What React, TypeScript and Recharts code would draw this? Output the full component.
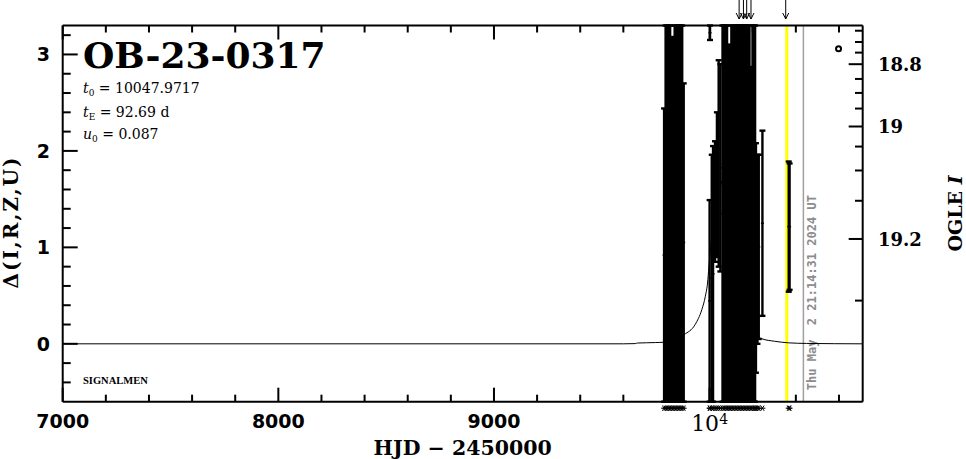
import React from 'react';
import {
  ComposedChart,
  Line,
  Scatter,
  ErrorBar,
  XAxis,
  YAxis,
  ReferenceLine,
} from 'recharts';

// HJD - 2450000 window and delta range of the panel
const HJD_DOMAIN = [7000, 10710];
const DELTA_DOMAIN = [-0.6, 3.3];

// photometry: time, bottom and top of each error bar
const pointHjd = [
  9789, 9796, 9803, 9810, 9817, 9824, 9831, 9838, 9845, 9852, 9859, 9866, 9873, 9880,
  10000, 10002, 10010, 10016, 10025, 10034, 10042, 10050,
  10060, 10067, 10074, 10081, 10088, 10094, 10101, 10108, 10115, 10122, 10129, 10136,
  10143, 10150, 10157, 10164, 10171, 10178, 10185, 10192, 10199, 10206, 10211,
  10215, 10222, 10228, 10245,
  10367, 10371,
];
const pointLow = [
  -0.6, -0.6, -0.6, -0.6, -0.6, -0.6, -0.6, -0.6, -0.6, -0.6, -0.6, -0.6, -0.6, -0.6,
  -0.6, 3.15, -0.6, -0.6, 0.85, 0.9, 0.8, 0.75,
  -0.6, -0.6, -0.6, -0.6, -0.6, -0.6, -0.6, -0.6, -0.6, -0.6, -0.6, -0.6,
  -0.6, -0.6, -0.6, -0.6, -0.6, -0.6, -0.6, -0.6, -0.6, -0.6, -0.6,
  -0.3, 0.0, 0.05, 0.29,
  0.54, 0.56,
];
const pointHigh = [
  2.44, 3.3, 3.3, 3.3, 3.3, 3.18, 3.18, 3.3, 3.3, 3.3, 3.3, 3.3, 3.3, 2.7,
  1.49, 3.3, 1.96, 2.05, 2.1, 2.4, 2.94, 2.9,
  3.3, 3.3, 3.3, 3.3, 3.1, 3.1, 3.3, 3.3, 3.3, 3.3, 3.3, 3.3,
  3.3, 3.3, 3.3, 3.3, 3.3, 3.3, 3.3, 2.87, 3.3, 3.3, 3.3,
  2.08, 1.96, 1.96, 2.21,
  1.89, 1.87,
];

// model light curve
const modelHjd = [
  7000, 9600, 9655, 9665, 9750, 9789, 9840, 9882, 9933, 9964, 9980, 9992, 9995,
  10005, 10020, 10048, 10075, 10110, 10150, 10190, 10215, 10243, 10300, 10367, 10450, 10710,
];
const modelDelta = [
  0, 0, 0.002, 0.008, 0.013, 0.017, 0.045, 0.096, 0.2, 0.355, 0.49, 0.665, 0.75,
  1.0, 1.35, 1.7, 1.45, 0.8, 0.4, 0.18, 0.086, 0.052, 0.027, 0.01, 0.004, 0,
];

const alertHjd = [10137, 10157, 10172, 10192, 10353];
const markHjd = [10598];
const markDelta = [3.06];
const lastHjd = 10358;
const nowHjd = 10435;
const nowText = 'Thu May  2 21:14:31 2024 UT';

const xMajorTicks = [7000, 8000, 9000, 10000];
const xMinorTicks = [
  7200, 7400, 7600, 7800, 8200, 8400, 8600, 8800, 9200, 9400, 9600, 9800,
  10200, 10400, 10600,
];
const yMajorTicks = [0, 1, 2, 3];
const yMinorTicks = [-0.4, -0.2, 0.2, 0.4, 0.6, 0.8, 1.2, 1.4, 1.6, 1.8, 2.2, 2.4, 2.6, 2.8, 3.2];
const magLabels = ['18.8', '19', '19.2'];
const magMajorDelta = [2.899, 2.253, 1.087];
const magMinorDelta = [3.246, 3.129, 3.019, 2.746, 2.601, 2.439, 2.045, 1.797, 1.483, 0.448];

const W = 966;
const H = 459;
const M = { top: 25.5, right: 103.3, bottom: 57.3, left: 62.7 };
const [X0, X1] = HJD_DOMAIN;
const [Y0, Y1] = DELTA_DOMAIN;

const points = pointHjd.map((hjd, i) => ({
  hjd,
  delta: (pointLow[i] + pointHigh[i]) / 2,
  err: (pointHigh[i] - pointLow[i]) / 2,
}));
const model = modelHjd.map((hjd, i) => ({ hjd, delta: modelDelta[i] }));
const marks = markHjd.map((hjd, i) => ({ hjd, delta: markDelta[i] }));
// stars along the bottom and arrows along the top sit on the frame edges
const stars = pointHjd.map((hjd) => ({ hjd, delta: Y0 }));
const alerts = alertHjd.map((hjd) => ({ hjd, delta: Y1 }));

// frame tick marks, anchored on the frame edges
const xTicks = [...xMajorTicks, ...xMinorTicks];
const bottomTicks = xTicks.map((v) => ({ hjd: v, delta: Y0, major: xMajorTicks.includes(v) }));
const topTicks = xTicks.map((v) => ({ hjd: v, delta: Y1, major: xMajorTicks.includes(v) }));
const leftTicks = [...yMajorTicks, ...yMinorTicks].map((v) => ({ hjd: X0, delta: v, major: yMajorTicks.includes(v) }));
const rightTicks = [...magMajorDelta, ...magMinorDelta].map((v) => ({ hjd: X1, delta: v, major: magMajorDelta.includes(v) }));

const SANS = 'DejaVu Sans, sans-serif';
const SERIF = 'DejaVu Serif, serif';
const THIN = 0.01; // axes take no room, the margin holds the labels

function BottomLabel(props: any) {
  const { x, y, payload } = props;
  const v = payload.value;
  if (v === 10000) {
    return (
      <text x={x} y={y + 29.5} textAnchor="middle" fontFamily={SERIF} fontSize={22} fill="#000">
        10<tspan dy={-7} fontSize={14}>4</tspan>
      </text>
    );
  }
  return (
    <text x={x} y={y + 26.5} textAnchor="middle" fontFamily={SANS} fontWeight="bold" fontSize={19} fill="#000">
      {v}
    </text>
  );
}

function LeftLabel(props: any) {
  const { x, y, payload } = props;
  return (
    <text x={x - 12.7} y={y + 7} textAnchor="end" fontFamily={SANS} fontWeight="bold" fontSize={19} fill="#000">
      {payload.value}
    </text>
  );
}

function RightLabel(props: any) {
  const { x, y, payload } = props;
  const i = magMajorDelta.indexOf(payload.value);
  return (
    <text x={x + 15.3} y={y + 7} fontFamily={SERIF} fontWeight="bold" fontSize={18} fill="#000">
      {magLabels[i]}
    </text>
  );
}

const tickUp = (p: any) => {
  const len = p.payload.major ? 14 : 7;
  return <line x1={p.cx} x2={p.cx} y1={p.cy} y2={p.cy - len} stroke="#000" strokeWidth={2} />;
};
const tickDown = (p: any) => {
  const len = p.payload.major ? 14 : 7;
  return <line x1={p.cx} x2={p.cx} y1={p.cy} y2={p.cy + len} stroke="#000" strokeWidth={2} />;
};
const tickRightward = (p: any) => {
  const len = p.payload.major ? 15 : 8;
  return <line x1={p.cx} x2={p.cx + len} y1={p.cy} y2={p.cy} stroke="#000" strokeWidth={2} />;
};
const tickLeftward = (p: any) => {
  const len = p.payload.major ? 14 : 7.7;
  return <line x1={p.cx} x2={p.cx - len} y1={p.cy} y2={p.cy} stroke="#000" strokeWidth={2} />;
};

const arrowShape = (p: any) => (
  <g stroke="#000" strokeWidth={1} fill="none">
    <line x1={p.cx} x2={p.cx} y1={p.cy - 25.5} y2={p.cy - 6.5} />
    <polyline points={`${p.cx - 3},${p.cy - 12.5} ${p.cx},${p.cy - 6.5} ${p.cx + 3},${p.cy - 12.5}`} />
  </g>
);

const starShape = (p: any) => {
  const cy = p.cy + 6.5;
  return (
    <g stroke="#000" strokeWidth={1}>
      <line x1={p.cx - 3} x2={p.cx + 3} y1={cy} y2={cy} />
      <line x1={p.cx - 1.7} x2={p.cx + 1.7} y1={cy - 2.6} y2={cy + 2.6} />
      <line x1={p.cx - 1.7} x2={p.cx + 1.7} y1={cy + 2.6} y2={cy - 2.6} />
    </g>
  );
};

const tickDash = (p: any) => (
  <line x1={p.cx - 1.5} x2={p.cx + 1.5} y1={p.cy} y2={p.cy} stroke="#000" strokeWidth={1.5} />
);
const ringDot = (p: any) => (
  <circle cx={p.cx} cy={p.cy} r={2.5} fill="#fff" stroke="#000" strokeWidth={2} />
);

function NowLabel(props: any) {
  const vb = props.viewBox || {};
  const x = vb.x + 12.2;
  const y = vb.y + vb.height - 11.5;
  return (
    <text
      x={x}
      y={y}
      transform={`rotate(-90 ${x} ${y})`}
      fontFamily="DejaVu Sans Mono, monospace"
      fontWeight="bold"
      fontSize={12}
      fill="#8c8c8c"
      style={{ whiteSpace: 'pre' }}
    >
      {nowText}
    </text>
  );
}

export default function App() {
  const frame = { stroke: '#000', strokeWidth: 2 };
  return (
    <div style={{ position: 'absolute', left: 0, top: 0, width: W, height: H, background: '#fff' }}>
      <ComposedChart width={W} height={H} margin={M}>
        <XAxis xAxisId="x" type="number" dataKey="hjd" domain={HJD_DOMAIN}
          ticks={xMajorTicks} interval={0} tickSize={0} tickMargin={0} height={THIN}
          axisLine={frame} tickLine={false} tick={(p: any) => <BottomLabel {...p} />} />
        <XAxis xAxisId="top" orientation="top" type="number" domain={HJD_DOMAIN}
          ticks={xMajorTicks} interval={0} tickSize={0} height={THIN}
          axisLine={frame} tickLine={false} tick={() => <g />} />
        <YAxis yAxisId="y" type="number" dataKey="delta" domain={DELTA_DOMAIN}
          ticks={yMajorTicks} interval={0} tickSize={0} tickMargin={0} width={THIN}
          axisLine={frame} tickLine={false} tick={(p: any) => <LeftLabel {...p} />} />
        <YAxis yAxisId="mag" orientation="right" type="number" dataKey="delta" domain={DELTA_DOMAIN}
          ticks={magMajorDelta} interval={0} tickSize={0} tickMargin={0} width={THIN}
          axisLine={frame} tickLine={false} tick={(p: any) => <RightLabel {...p} />} />

        <ReferenceLine xAxisId="x" yAxisId="y" x={lastHjd} stroke="#ffff00" strokeWidth={3} />
        <ReferenceLine xAxisId="x" yAxisId="y" x={nowHjd} stroke="#a0a0a0" strokeWidth={1.5}
          label={(p: any) => <NowLabel {...p} />} />

        <Line xAxisId="x" yAxisId="y" data={model} dataKey="delta" type="monotone"
          stroke="#000" strokeWidth={1} dot={false} isAnimationActive={false} />
        <Scatter xAxisId="x" yAxisId="y" data={points} dataKey="delta" shape={tickDash}
          isAnimationActive={false}>
          <ErrorBar dataKey="err" direction="y" width={3} stroke="#000" strokeWidth={2.4} isAnimationActive={false} />
        </Scatter>
        <Scatter xAxisId="x" yAxisId="mag" data={marks} dataKey="delta" shape={ringDot}
          isAnimationActive={false} />
        <Scatter xAxisId="x" yAxisId="y" data={stars} dataKey="delta" shape={starShape}
          isAnimationActive={false} />
        <Scatter xAxisId="x" yAxisId="y" data={alerts} dataKey="delta" shape={arrowShape}
          isAnimationActive={false} />

        {/* frame ticks, all on the right-hand axis scale (same domain as the left one) */}
        <Scatter xAxisId="x" yAxisId="mag" data={rightTicks} dataKey="delta" shape={tickLeftward} isAnimationActive={false} />
        <Scatter xAxisId="x" yAxisId="mag" data={leftTicks} dataKey="delta" shape={tickRightward} isAnimationActive={false} />
        <Scatter xAxisId="x" yAxisId="mag" data={bottomTicks} dataKey="delta" shape={tickUp} isAnimationActive={false} />
        <Scatter xAxisId="x" yAxisId="mag" data={topTicks} dataKey="delta" shape={tickDown} isAnimationActive={false} />

        <text x={83} y={68.3} fontFamily={SERIF} fontWeight="bold" fontSize={36} fill="#000">OB-23-0317</text>
        <text x={83} y={93.3} fontFamily={SERIF} fontSize={14} fill="#000">
          <tspan fontStyle="italic">t</tspan>
          <tspan dy={3} fontSize={9}>0</tspan>
          <tspan dy={-3}> = 10047.9717</tspan>
        </text>
        <text x={83} y={116.7} fontFamily={SERIF} fontSize={14} fill="#000">
          <tspan fontStyle="italic">t</tspan>
          <tspan dy={3} fontSize={9}>E</tspan>
          <tspan dy={-3}> = 92.69 d</tspan>
        </text>
        <text x={83} y={138.5} fontFamily={SERIF} fontSize={14} fill="#000">
          <tspan fontStyle="italic">u</tspan>
          <tspan dy={3} fontSize={9}>0</tspan>
          <tspan dy={-3}> = 0.087</tspan>
        </text>
        <text x={83} y={384} fontFamily="Liberation Serif, serif" fontWeight="bold" fontSize={10.5} fill="#000">SIGNALMEN</text>

        <text x={462.7} y={455} textAnchor="middle" fontFamily={SERIF} fontWeight="bold" fontSize={20.5} fill="#000">
          HJD − 2450000
        </text>
        <text x={17.5} y={222} transform="rotate(-90 17.5 222)" textAnchor="middle" fontFamily={SERIF}
          fontWeight="bold" fontSize={20} letterSpacing={2} fill="#000">
          Δ(I,R,Z,U)
        </text>
        <text x={962} y={213.5} transform="rotate(-90 962 213.5)" textAnchor="middle" fontFamily={SERIF}
          fontWeight="bold" fontSize={19} fill="#000">
          OGLE <tspan fontStyle="italic">I</tspan>
        </text>
      </ComposedChart>
    </div>
  );
}
